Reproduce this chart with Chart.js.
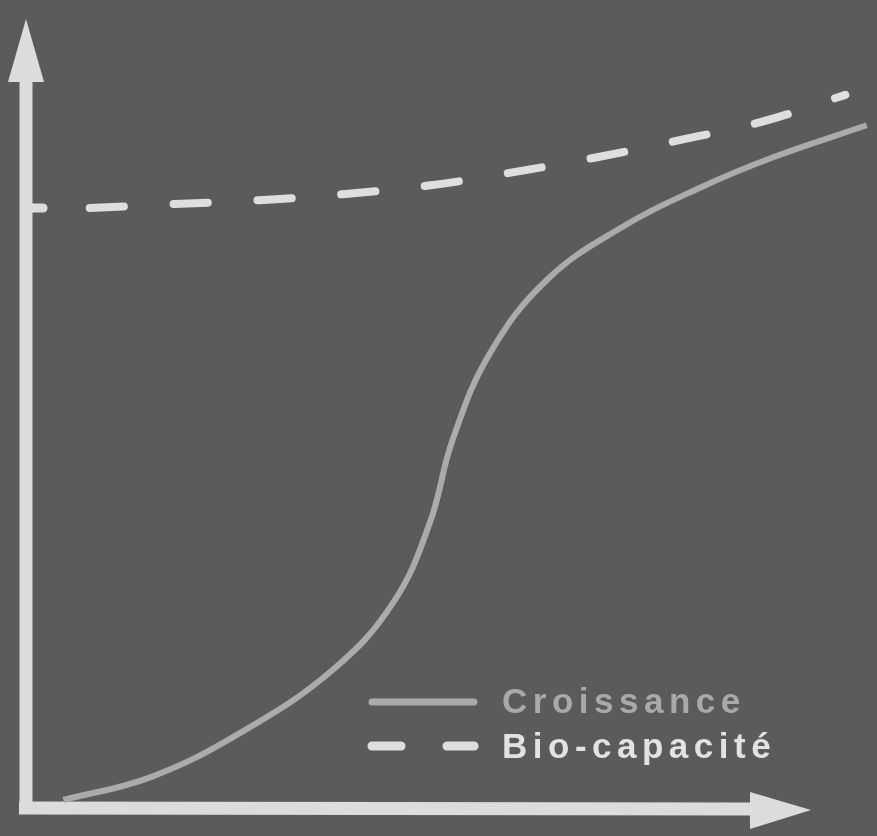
<!DOCTYPE html>
<html><head><meta charset="utf-8">
<script src="https://cdn.jsdelivr.net/npm/chart.js@4/dist/chart.umd.min.js"></script>
<style>html,body{margin:0;padding:0;background:#5b5b5b;overflow:hidden}canvas{display:block}</style>
</head><body>
<canvas id="c" width="877" height="836"></canvas>
<script>
// ---- data (abstract units 0..100 on both axes) ----
const seriesLabels = ['Croissance', 'Bio-capacité'];
const croissanceX = [4.4, 14.6, 25.2, 36.1, 43.2, 47.5, 50.2, 54.6, 61.3, 69.9, 79.3, 87.9, 98.9];
const croissanceY = [0.9, 3.8, 9.5, 17.6, 26.2, 36.4, 47.1, 58.2, 67.6, 74.2, 79.4, 83.3, 87.4];
const bioX = [7.5, 17.5, 27.5, 37.6, 47.6, 57.4, 67.2, 76.9, 86.4, 96.4];
const bioY = [76.8, 77.3, 77.8, 78.6, 79.7, 81.4, 83.3, 85.5, 87.8, 91.3];
const yTickValues = [bioY[0]];

const toPoints = (xs, ys) => xs.map((v, i) => ({x: v, y: ys[i]}));

const AXIS = '#dcdcdc';
const legendTextColors = ['#a9a9a9', '#e2e2e2'];

const axesPlugin = {
  id: 'axes',
  beforeDatasetsDraw(chart) {
    const {ctx, chartArea: a, scales} = chart;
    const x0 = a.left, y0 = a.bottom + 1;
    ctx.save();
    ctx.strokeStyle = AXIS; ctx.fillStyle = AXIS; ctx.lineWidth = 13; ctx.lineCap = 'butt';
    // y axis
    ctx.beginPath(); ctx.moveTo(x0, y0 + 6); ctx.lineTo(x0, a.top + 50); ctx.stroke();
    ctx.beginPath(); ctx.moveTo(x0, a.top - 8); ctx.lineTo(x0 + 18, a.top + 55); ctx.lineTo(x0 - 18, a.top + 55); ctx.closePath(); ctx.fill();
    // x axis
    ctx.beginPath(); ctx.moveTo(x0 - 7, y0); ctx.lineTo(755, y0 + 1); ctx.stroke();
    ctx.beginPath(); ctx.moveTo(811, y0 + 2); ctx.lineTo(750, y0 - 16); ctx.lineTo(750, y0 + 21); ctx.closePath(); ctx.fill();
    // y tick(s)
    ctx.lineWidth = 9;
    yTickValues.forEach(v => {
      const py = scales.y.getPixelForValue(v);
      ctx.beginPath(); ctx.moveTo(x0, py); ctx.lineTo(x0 + 17, py); ctx.lineCap = 'round'; ctx.stroke();
    });
    ctx.restore();
  }
};

const legendPlugin = {
  id: 'customLegend',
  afterDatasetsDraw(chart) {
    const {ctx} = chart;
    const rows = [{lineY: 702, baseY: 713}, {lineY: 746, baseY: 758}];
    ctx.save();
    chart.data.datasets.forEach((ds, i) => {
      const r = rows[i];
      ctx.strokeStyle = ds.borderColor;
      ctx.lineWidth = ds.borderWidth + 1;
      ctx.lineCap = 'round';
      if (ds.borderDash && ds.borderDash.length) {
        [[372, 401], [447, 474]].forEach(s => { ctx.beginPath(); ctx.moveTo(s[0], r.lineY); ctx.lineTo(s[1], r.lineY); ctx.stroke(); });
      } else {
        ctx.beginPath(); ctx.moveTo(372, r.lineY); ctx.lineTo(474, r.lineY); ctx.stroke();
      }
      ctx.fillStyle = legendTextColors[i];
      ctx.font = 'bold 35px "Liberation Sans", Arial, sans-serif';
      ctx.letterSpacing = '5.5px';
      ctx.textBaseline = 'alphabetic';
      ctx.textAlign = 'left';
      ctx.fillText(ds.label, 502, r.baseY);
    });
    ctx.restore();
  }
};

new Chart(document.getElementById('c'), {
  type: 'line',
  data: {
    datasets: [
      {
        label: seriesLabels[0],
        data: toPoints(croissanceX, croissanceY),
        borderColor: '#ababab',
        borderWidth: 6,
        pointRadius: 0,
        tension: 0.4,
        fill: false,
        clip: false
      },
      {
        label: seriesLabels[1],
        data: toPoints(bioX, bioY),
        borderColor: '#dedede',
        borderWidth: 8,
        borderDash: [34, 50],
        borderCapStyle: 'round',
        pointRadius: 0,
        tension: 0.4,
        fill: false,
        clip: false
      }
    ]
  },
  options: {
    responsive: false,
    animation: false,
    devicePixelRatio: 1,
    layout: {padding: {left: 26, right: 1, top: 27, bottom: 29}},
    scales: {
      x: {type: 'linear', min: 0, max: 100, display: false},
      y: {type: 'linear', min: 0, max: 100, display: false}
    },
    plugins: {legend: {display: false}, tooltip: {enabled: false}}
  },
  plugins: [axesPlugin, legendPlugin]
});
</script>
</body></html>
